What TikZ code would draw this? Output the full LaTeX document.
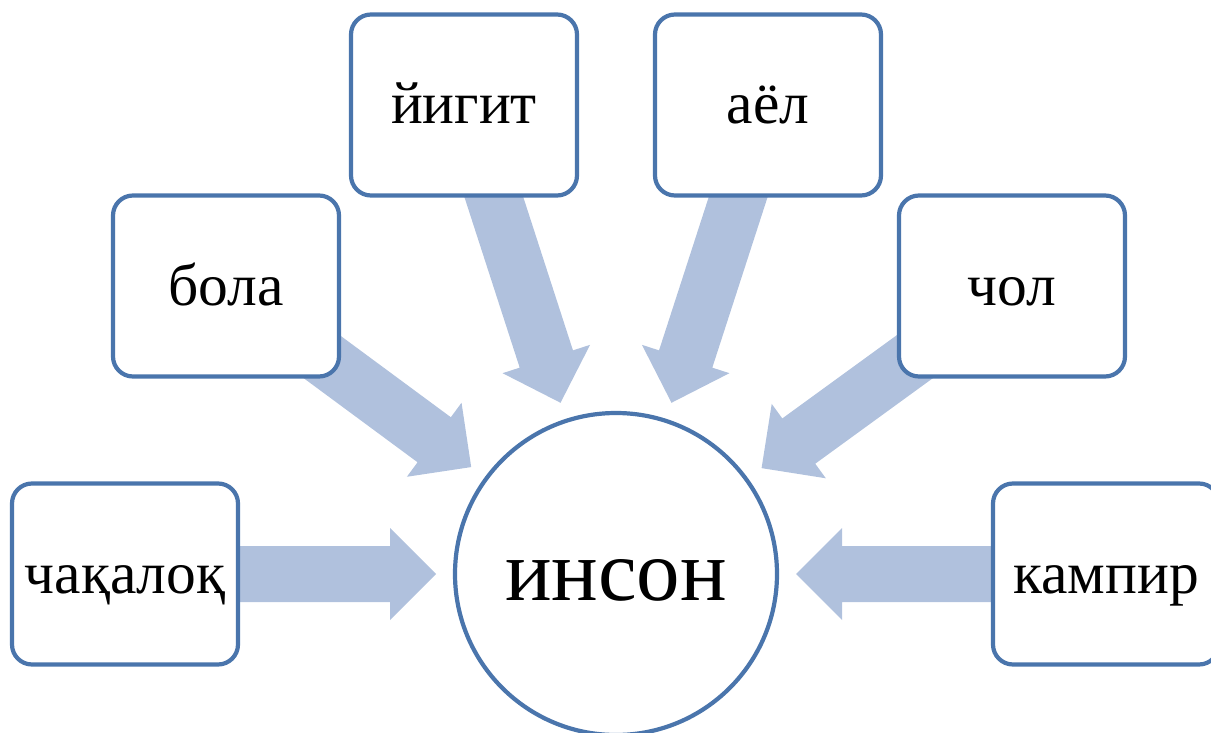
\documentclass[tikz,border=0pt]{standalone}
\usepackage{fontspec}
\setmainfont{Liberation Serif}
\usetikzlibrary{calc}
\pgfdeclarelayer{background}
\pgfsetlayers{background,main}
\definecolor{boxblue}{RGB}{74,117,172}
\definecolor{arrowblue}{RGB}{176,193,221}
\tikzset{
  termbox/.style={draw=boxblue, line width=4.2pt, fill=white, rounded corners=20pt,
    minimum width=226pt, minimum height=181pt, inner sep=0pt,
    font=\fontsize{59.5}{64}\selectfont, text height=50pt, text depth=12pt},
  core/.style={circle, draw=boxblue, line width=4.2pt, fill=white, minimum size=322pt,
    inner sep=0pt, font=\fontsize{87}{90}\selectfont, text height=62pt, text depth=10pt},
  arrowfill/.style={fill=arrowblue}
}
\newcommand\radarrow[1]{%
  \path ($(inson.center)!180pt!(#1.center)$) coordinate (#1-t)
        ($(inson.center)!226pt!(#1.center)$) coordinate (#1-h);
  \fill[arrowfill] ($(#1.center)!28pt!90:(#1-t)$) -- ($(#1-h)!28pt!90:(#1-t)$)
    -- ($(#1-h)!46pt!90:(#1-t)$) -- (#1-t) -- ($(#1-h)!46pt!-90:(#1-t)$)
    -- ($(#1-h)!28pt!-90:(#1-t)$) -- ($(#1.center)!28pt!-90:(#1-t)$) -- cycle;}
\begin{document}
\begin{tikzpicture}[x=1pt,y=-1pt]
\useasboundingbox (0,0) rectangle (1211,733);
\clip (0,0) rectangle (1211,733);
\node[core] (inson) at (616,574) {инсон};
\node[termbox] (chaqaloq) at (125,574) {чақалоқ};
\node[termbox] (bola) at (226,286) {бола};
\node[termbox] (yigit) at (464,105) {йигит};
\node[termbox] (ayol) at (768,105) {аёл};
\node[termbox] (chol) at (1012,286) {чол};
\node[termbox] (kampir) at (1106,574) {кампир};
\begin{pgfonlayer}{background}
\radarrow{chaqaloq}
\radarrow{bola}
\radarrow{yigit}
\radarrow{ayol}
\radarrow{chol}
\radarrow{kampir}
\end{pgfonlayer}
\end{tikzpicture}
\end{document}
